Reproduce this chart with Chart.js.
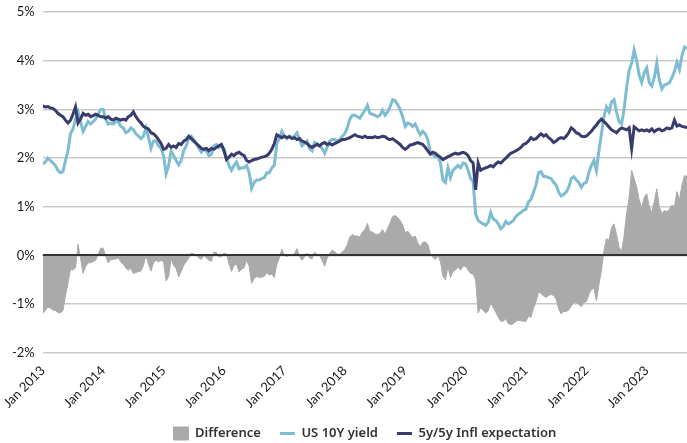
<!DOCTYPE html>
<html>
<head>
<meta charset="utf-8">
<script src="https://cdn.jsdelivr.net/npm/chart.js@4/dist/chart.umd.min.js"></script>
<style>
  html, body { margin: 0; padding: 0; background: #fff; }
  #wrap { width: 687px; height: 443px; position: relative; }
</style>
</head>
<body>
<div id="wrap"><canvas id="chart"></canvas></div>
<script>
// two readings per month (1st and 16th), Jan 2013 .. mid Aug 2023
const startYear = 2013
const perYear = 24

const xTickLabels = ['Jan 2013', 'Jan 2014', 'Jan 2015', 'Jan 2016', 'Jan 2017', 'Jan 2018',
  'Jan 2019', 'Jan 2020', 'Jan 2021', 'Jan 2022', 'Jan 2023']
const yTicks = [-2, -1, 0, 1, 2, 3, 4, 5]

const us10y = [
  1.88, 1.92, 2.00, 1.95, 1.90, 1.85, 1.75, 1.70, 1.72, 1.95, 2.15, 2.50, 2.60, 2.80, 2.95, 2.75, 2.55, 2.65, 2.75, 2.70, 2.75, 2.80, 2.90, 3.00, // 2013
  3.00, 2.80, 2.70, 2.72, 2.70, 2.75, 2.75, 2.65, 2.62, 2.52, 2.55, 2.62, 2.58, 2.50, 2.45, 2.40, 2.45, 2.62, 2.42, 2.20, 2.35, 2.35, 2.25, 2.20, // 2014
  2.05, 1.68, 1.85, 2.15, 2.05, 1.95, 1.86, 1.95, 2.15, 2.25, 2.40, 2.45, 2.38, 2.30, 2.20, 2.12, 2.18, 2.15, 2.05, 2.08, 2.25, 2.28, 2.22, 2.25, // 2015
  2.20, 2.00, 1.85, 1.75, 1.85, 1.92, 1.78, 1.80, 1.80, 1.85, 1.70, 1.38, 1.50, 1.55, 1.55, 1.58, 1.60, 1.70, 1.70, 1.80, 1.85, 2.30, 2.40, 2.55, // 2016
  2.45, 2.40, 2.45, 2.42, 2.45, 2.52, 2.38, 2.25, 2.30, 2.35, 2.20, 2.15, 2.32, 2.30, 2.25, 2.20, 2.10, 2.22, 2.35, 2.38, 2.38, 2.35, 2.38, 2.45, // 2017
  2.50, 2.62, 2.80, 2.88, 2.88, 2.85, 2.82, 2.90, 2.98, 3.08, 2.92, 2.90, 2.88, 2.85, 2.88, 2.98, 2.88, 2.95, 3.05, 3.20, 3.18, 3.10, 3.00, 2.85, // 2018
  2.65, 2.72, 2.70, 2.65, 2.70, 2.58, 2.48, 2.55, 2.50, 2.38, 2.12, 2.08, 2.02, 2.05, 1.90, 1.55, 1.50, 1.80, 1.60, 1.75, 1.80, 1.85, 1.80, 1.90, // 2019
  1.88, 1.75, 1.58, 1.52, 0.85, 0.72, 0.68, 0.65, 0.62, 0.68, 0.88, 0.75, 0.72, 0.65, 0.55, 0.60, 0.70, 0.65, 0.68, 0.72, 0.80, 0.85, 0.88, 0.93, // 2020
  0.95, 1.10, 1.15, 1.30, 1.45, 1.70, 1.72, 1.62, 1.62, 1.60, 1.58, 1.50, 1.45, 1.30, 1.22, 1.25, 1.30, 1.40, 1.58, 1.62, 1.55, 1.50, 1.40, 1.48, // 2021
  1.50, 1.70, 1.85, 1.95, 1.75, 2.15, 2.50, 2.85, 3.05, 2.95, 3.15, 3.20, 2.95, 2.75, 2.70, 3.00, 3.45, 3.80, 3.95, 4.22, 4.00, 3.70, 3.55, 3.75, // 2022
  3.85, 3.55, 3.48, 3.65, 3.95, 3.60, 3.42, 3.50, 3.52, 3.55, 3.65, 3.78, 3.97, 3.82, 4.10, 4.28, 4.25 // 2023
]

const infl5y5y = [
  3.07, 3.05, 3.06, 3.03, 3.02, 2.98, 2.92, 2.88, 2.85, 2.78, 2.72, 2.78, 2.90, 3.05, 2.72, 2.80, 2.92, 2.88, 2.90, 2.85, 2.87, 2.90, 2.88, 2.85, // 2013
  2.85, 2.82, 2.85, 2.80, 2.78, 2.82, 2.80, 2.78, 2.80, 2.78, 2.85, 2.88, 2.95, 2.85, 2.78, 2.72, 2.65, 2.62, 2.60, 2.52, 2.50, 2.45, 2.38, 2.30, // 2014
  2.18, 2.20, 2.28, 2.22, 2.25, 2.22, 2.30, 2.28, 2.35, 2.38, 2.45, 2.40, 2.35, 2.30, 2.25, 2.20, 2.18, 2.20, 2.15, 2.20, 2.18, 2.22, 2.25, 2.28, // 2015
  2.15, 1.97, 2.02, 2.08, 2.05, 2.10, 2.12, 2.08, 2.05, 1.95, 1.92, 1.95, 1.97, 1.98, 2.00, 2.02, 2.03, 2.05, 2.10, 2.18, 2.30, 2.48, 2.45, 2.42, // 2016
  2.45, 2.42, 2.44, 2.40, 2.42, 2.38, 2.40, 2.35, 2.33, 2.30, 2.25, 2.22, 2.25, 2.28, 2.25, 2.30, 2.32, 2.28, 2.30, 2.27, 2.30, 2.32, 2.35, 2.38, // 2017
  2.38, 2.40, 2.42, 2.45, 2.48, 2.45, 2.44, 2.42, 2.45, 2.42, 2.43, 2.42, 2.44, 2.42, 2.43, 2.45, 2.44, 2.40, 2.38, 2.40, 2.36, 2.32, 2.28, 2.22, // 2018
  2.18, 2.22, 2.27, 2.28, 2.30, 2.32, 2.30, 2.28, 2.22, 2.15, 2.08, 2.12, 2.10, 2.05, 2.02, 1.97, 2.00, 2.03, 2.05, 2.08, 2.10, 2.08, 2.10, 2.12, // 2019
  2.10, 2.05, 1.95, 1.90, 1.35, 1.90, 1.75, 1.78, 1.80, 1.82, 1.85, 1.82, 1.88, 1.92, 1.90, 1.95, 2.00, 2.05, 2.10, 2.12, 2.15, 2.18, 2.22, 2.28, // 2020
  2.30, 2.35, 2.42, 2.38, 2.40, 2.45, 2.50, 2.45, 2.48, 2.42, 2.38, 2.32, 2.35, 2.40, 2.42, 2.40, 2.45, 2.52, 2.62, 2.58, 2.52, 2.50, 2.45, 2.44, // 2021
  2.45, 2.50, 2.55, 2.62, 2.68, 2.75, 2.80, 2.75, 2.70, 2.64, 2.58, 2.55, 2.52, 2.58, 2.62, 2.60, 2.58, 2.62, 2.20, 2.64, 2.60, 2.56, 2.58, 2.56, // 2022
  2.58, 2.55, 2.60, 2.54, 2.58, 2.60, 2.56, 2.58, 2.62, 2.60, 2.62, 2.78, 2.66, 2.68, 2.65, 2.64, 2.63 // 2023
]

// difference = yield minus inflation expectation
const difference = us10y.map((v, i) => +(v - infl5y5y[i]).toFixed(2))

const toPoints = (values) => values.map((v, i) => ({ x: startYear + i / perYear, y: v }))

const TICK_FONT = "Lato, 'Noto Sans', sans-serif"
const LEGEND_FONT = "'Noto Sans', 'DejaVu Sans', sans-serif"

// zero line drawn on top of the grey area
const zeroLine = {
  id: 'zeroLine',
  afterDatasetsDraw(chart) {
    const { ctx, chartArea, scales } = chart
    const y = Math.round(scales.y.getPixelForValue(0))
    ctx.save()
    ctx.strokeStyle = '#333'
    ctx.lineWidth = 2
    ctx.beginPath()
    ctx.moveTo(chartArea.left, y)
    ctx.lineTo(chartArea.right, y)
    ctx.stroke()
    ctx.restore()
  }
}

const ctx = document.getElementById('chart').getContext('2d')
const myChart = new Chart(ctx, {
  type: 'line',
  data: {
    datasets: [
      {
        label: 'Difference',
        data: toPoints(difference),
        fill: 'origin',
        backgroundColor: '#aaaaaa',
        borderColor: '#aaaaaa',
        borderWidth: 1,
        pointRadius: 0,
        pointStyle: 'rect',
        order: 3
      },
      {
        label: 'US 10Y yield',
        data: toPoints(us10y),
        borderColor: '#7dbcd1',
        backgroundColor: '#7dbcd1',
        borderWidth: 3,
        pointRadius: 0,
        pointStyle: 'line',
        order: 2
      },
      {
        label: '5y/5y Infl expectation',
        data: toPoints(infl5y5y),
        borderColor: '#373c6c',
        backgroundColor: '#373c6c',
        borderWidth: 3,
        pointRadius: 0,
        pointStyle: 'line',
        order: 1
      }
    ]
  },
  options: {
    responsive: true,
    maintainAspectRatio: false,
    animation: false,
    layout: { padding: { top: 0, right: 0, left: 4, bottom: -7 } },
    elements: { line: { tension: 0 } },
    scales: {
      x: {
        type: 'linear',
        min: startYear,
        max: startYear + (us10y.length - 1) / perYear,
        grid: { display: false },
        border: { display: false },
        afterFit: (scale) => { scale.height -= 5 },
        ticks: {
          stepSize: 1,
          includeBounds: false,
          autoSkip: false,
          minRotation: 45,
          maxRotation: 45,
          padding: 2,
          color: '#1a1a1a',
          font: { family: TICK_FONT, size: 13 },
          callback: (v) => xTickLabels[v - startYear]
        }
      },
      y: {
        min: yTicks[0],
        max: yTicks[yTicks.length - 1],
        border: { display: false },
        afterFit: (scale) => { scale.paddingTop = 12 },
        grid: {
          color: '#c9c9c9',
          lineWidth: 1.5,
          drawTicks: false
        },
        ticks: {
          stepSize: 1,
          padding: 8,
          color: '#1a1a1a',
          font: { family: TICK_FONT, size: 13 },
          callback: (v) => v + '%'
        }
      }
    },
    plugins: {
      tooltip: { enabled: false },
      legend: {
        position: 'bottom',
        fullSize: false,
        labels: {
          usePointStyle: true,
          pointStyleWidth: 15,
          padding: 19,
          color: '#333',
          font: { family: LEGEND_FONT, size: 13, weight: '600' },
          sort: (a, b) => a.datasetIndex - b.datasetIndex
        }
      }
    }
  },
  plugins: [zeroLine]
})
</script>
</body>
</html>
